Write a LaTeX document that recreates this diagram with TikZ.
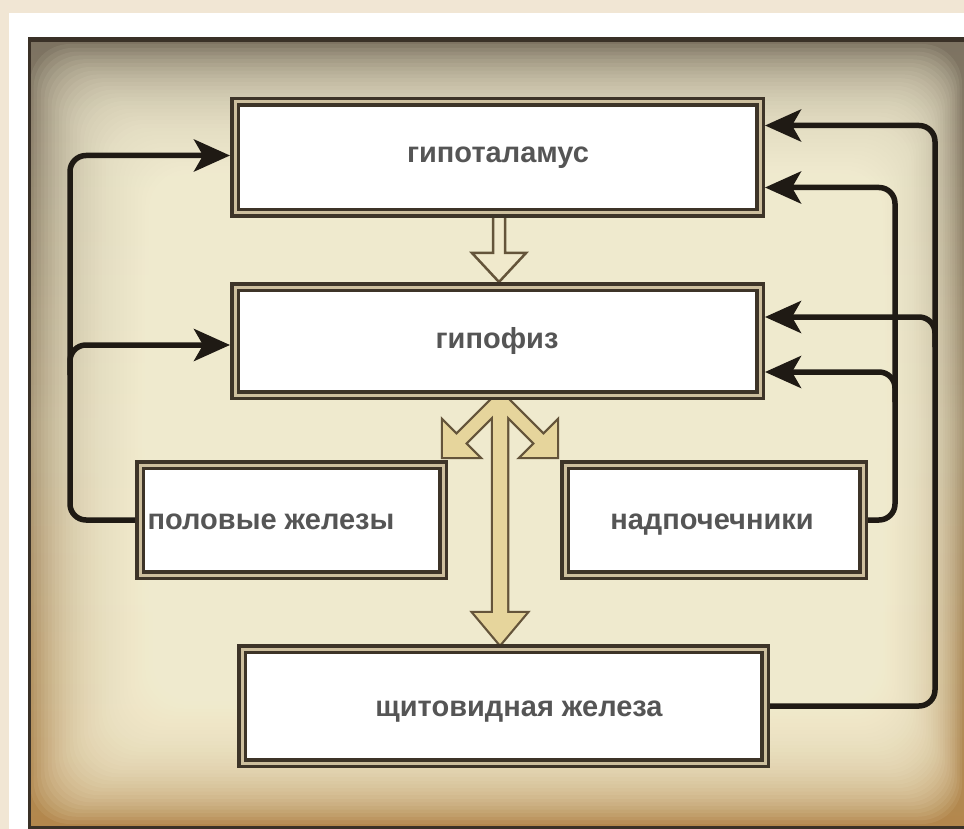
\documentclass[tikz,border=0pt]{standalone}
\usepackage{fontspec}
\setmainfont{Liberation Sans}
\usetikzlibrary{arrows.meta,calc}
\definecolor{pagecream}{HTML}{F1E6D4}
\definecolor{edgetop}{HTML}{7C7261}
\definecolor{edgemid}{HTML}{A89675}
\definecolor{edgebot}{HTML}{B3874C}
\definecolor{photocream}{HTML}{FBF6DA}
\definecolor{framedark}{HTML}{3A3127}
\definecolor{linedark}{HTML}{1F1A14}
\definecolor{boxline}{HTML}{3D3428}
\definecolor{boxgap}{HTML}{CDBF9E}
\definecolor{txtgray}{HTML}{555555}
\definecolor{hollowline}{HTML}{64543A}
\definecolor{hollowtop}{HTML}{F0E9CC}
\definecolor{hollowfill}{HTML}{E6D59C}
\begin{document}
\begin{tikzpicture}[x=1pt,y=-1pt,
  box/.style={draw=boxline, line width=3.5pt, double=boxgap, double distance=3pt, fill=white, outer sep=5pt, inner sep=0pt},
  lbl/.style={font=\fontsize{29}{34}\selectfont\bfseries, text=txtgray, inner sep=0pt, anchor=base},
  conn/.style={draw=linedark, line width=5.5pt, rounded corners=16pt, -{Stealth[length=36pt,width=32pt,inset=9pt]}},
  hline/.style={draw=hollowline, line width=4.5pt, line join=miter},
  hfill/.style={fill=hollowfill},
]
\useasboundingbox (0,0) rectangle (964,829);
% page and photo background
\fill[pagecream] (0,0) rectangle (964,829);
\fill[white] (9,13) rectangle (964,829);
\shade[top color=edgetop, bottom color=edgebot, middle color=edgemid] (28,38) rectangle (964,829);
\foreach \i in {0,...,39}{
  \fill[photocream, opacity=0.08, rounded corners=40pt] ({30+3.6*\i},{44+3.8*\i}) rectangle ({962-2.4*\i},{824-3.6*\i});
}
\draw[framedark, line width=3pt] (29.5,829) -- (29.5,40);
\draw[framedark, line width=5pt] (28,40) -- (964,40);
\draw[framedark, line width=3pt] (28,827.5) -- (964,827.5);

% hollow arrow hypothalamus -> hypophysis
\begin{scope}[shift={(499,214)}, rotate=270]
  \filldraw[draw=hollowline, fill=hollowtop, line width=2.5pt, line join=miter]
    (0,-6) -- (39,-6) -- (39,-27) -- (68,0) -- (39,27) -- (39,6) -- (0,6) -- cycle;
\end{scope}
% hollow fork from hypophysis
\foreach \sx/\sy/\ang/\L/\w/\h/\hl in {502/398/225/83.4/6/25/25, 498/398/315/83.4/6/25/25, 500/395/270/249/7/26/31}{
  \begin{scope}[shift={(\sx,\sy)}, rotate=\ang]
    \draw[hline] (0,-\w) -- (\L-\hl,-\w) -- (\L-\hl,-\h) -- (\L,0) -- (\L-\hl,\h) -- (\L-\hl,\w) -- (0,\w) -- cycle;
  \end{scope}
}
\foreach \sx/\sy/\ang/\L/\w/\h/\hl in {502/398/225/83.4/6/25/25, 498/398/315/83.4/6/25/25, 500/395/270/249/7/26/31}{
  \begin{scope}[shift={(\sx,\sy)}, rotate=\ang]
    \fill[hfill] (0,-\w) -- (\L-\hl,-\w) -- (\L-\hl,-\h) -- (\L,0) -- (\L-\hl,\h) -- (\L-\hl,\w) -- (0,\w) -- cycle;
  \end{scope}
}

% boxes
\node[box, minimum width=525pt, minimum height=111pt] (hyp) at (497.5,157.5) {};
\node[box, minimum width=525pt, minimum height=108pt] (pit) at (497.5,341) {};
\node[box, minimum width=303pt, minimum height=110pt] (gon) at (291.5,520) {};
\node[box, minimum width=298pt, minimum height=110pt] (adr) at (714,520) {};
\node[box, minimum width=523pt, minimum height=114pt] (thy) at (503.5,706) {};

% labels
\node[lbl] (tHyp) at (498,163) {гипоталамус};
\node[lbl] (tPit) at (497,348) {гипофиз};
\node[lbl] (tGon) at (271,529) {половые железы};
\node[lbl] (tAdr) at (712,529) {надпочечники};
\node[lbl] (tThy) at (519,716) {щитовидная железа};

% connector coordinates
\coordinate (hA) at ($(hyp.east)+(0,-32)$);
\coordinate (hB) at ($(hyp.east)+(0,30)$);
\coordinate (pA) at ($(pit.east)+(0,-24)$);
\coordinate (pB) at ($(pit.east)+(0,31)$);
\coordinate (hL) at ($(hyp.west)+(0,-2)$);
\coordinate (pL) at ($(pit.west)+(0,4)$);
\coordinate (xo) at (935,0);
\coordinate (xi) at (895,0);
\coordinate (xl) at (70,0);

% feedback connectors
\draw[conn] (thy.east) -| (xo |- hA) -- (hA);
\draw[conn] ($(xo |- pA)+(0,30)$) |- (pA);
\draw[conn] (adr.east) -| (xi |- hB) -- (hB);
\draw[conn] ($(xi |- pB)+(0,30)$) |- (pB);
\draw[conn] (gon.west) -| (xl |- hL) -- (hL);
\draw[conn] ($(xl |- pL)+(0,30)$) |- (pL);
\end{tikzpicture}
\end{document}
